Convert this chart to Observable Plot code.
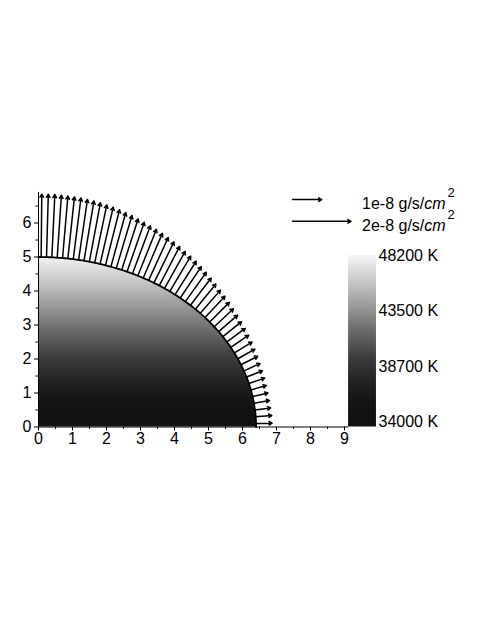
<!DOCTYPE html>
<html>
<head>
<meta charset="utf-8">
<script src="https://cdn.jsdelivr.net/npm/d3@7"></script>
<script src="https://cdn.jsdelivr.net/npm/@observablehq/plot@0.6"></script>
<style>
  html, body { margin: 0; padding: 0; background: #fff; }
  #chart { width: 491px; height: 635px; }
  #chart svg { font-family: "Liberation Sans", Arial, Helvetica, sans-serif; color: #000; }
  #chart svg g[aria-label$="tick label"] text { font-size: 16px !important; }
</style>
</head>
<body>
<div id="chart"></div>
<script>
// ---------------- data ----------------
// star outline (oblate): equatorial and polar semi-axes
const semiAxisX = 6.4;
const semiAxisY = 5.0;

// polar angle (deg) of the base of each flux arrow on the surface
const arrowThetaDeg = [0.9, 2.7, 4.5, 6.3, 8.1, 9.9, 11.7, 13.5, 15.3, 17.1,
  18.9, 20.7, 22.5, 24.3, 26.1, 27.9, 29.7, 31.5, 33.3, 35.1,
  36.9, 38.7, 40.5, 42.3, 44.1, 45.9, 47.7, 49.5, 51.3, 53.1,
  54.9, 56.7, 58.5, 60.3, 62.1, 63.9, 65.7, 67.5, 69.3, 71.1,
  72.9, 74.7, 76.5, 78.3, 80.1, 81.9, 83.7, 85.5, 87.3, 89.1];

// mass flux magnitude, in units of 1e-8 g/s/cm^2
const fluxE8 = [0.55, 0.55, 0.54, 0.54, 0.54, 0.55, 0.57, 0.59, 0.61, 0.64,
  0.67, 0.71, 0.74, 0.78, 0.82, 0.86, 0.90, 0.95, 1.00, 1.05,
  1.11, 1.17, 1.23, 1.29, 1.35, 1.40, 1.45, 1.51, 1.56, 1.61,
  1.66, 1.71, 1.75, 1.79, 1.83, 1.88, 1.92, 1.96, 1.99, 2.02,
  2.05, 2.07, 2.09, 2.11, 2.12, 2.13, 2.14, 2.15, 2.15, 2.15];

// legend arrows
const legendFlux = [1, 2];
const legendLabels = ["1e-8 g/s/", "2e-8 g/s/"];
const legendUnitItalic = "cm";
const legendUnitPower = "2";

// temperature colour bar
const tempTicks = [34000, 38700, 43500, 48200];
const tempUnit = "K";
// grey level of the temperature map vs height
const grayStopY = [0, 0.5, 1.0, 1.5, 2.0, 2.5, 3.0, 3.5, 4.0, 4.5, 5.0];
const grayStopLevel = [17, 19, 26, 40, 60, 88, 118, 150, 182, 212, 242];

// axis ticks
const xTicks = [0, 1, 2, 3, 4, 5, 6, 7, 8, 9];
const xMinor = [0.5, 1.5, 2.5, 3.5, 4.5, 5.5, 6.5, 7.5, 8.5];
const yTicks = [0, 1, 2, 3, 4, 5, 6];
const yMinor = [0.5, 1.5, 2.5, 3.5, 4.5, 5.5, 6.5];

// ---------------- layout constants ----------------
const arrowUnitsPerFlux = 0.86;   // data units of arrow length per 1e-8
const colorbarX = [9.12, 9.94];
const colorbarY = [0, 5.04];
const cbLabelX = 10.0;
const cbLabelY = [0.14, 5.04];    // where lowest / highest temperature labels sit
const legendArrowX = 7.47;
const legendRowY = [6.69, 6.05];
const legendTextX = 9.53;
const yAxisTop = 6.9;

// ---------------- derived geometry ----------------
const rad = Math.PI / 180;
const a = semiAxisX, b = semiAxisY;

const arrows = arrowThetaDeg.map((t, i) => {
  const th = t * rad;
  const r = a * b / Math.hypot(b * Math.cos(th), a * Math.sin(th));
  const x0 = r * Math.cos(th), y0 = r * Math.sin(th);
  let nx = x0 / (a * a), ny = y0 / (b * b);
  const n = Math.hypot(nx, ny); nx /= n; ny /= n;
  const L = fluxE8[i] * arrowUnitsPerFlux;
  return {x1: x0, y1: y0, x2: x0 + L * nx, y2: y0 + L * ny};
});

const outline = d3.range(0, 90.0001, 0.5).map(p => ({
  x: a * Math.cos(p * rad),
  y: b * Math.sin(p * rad)
}));

const legendRows = legendFlux.map((f, i) => ({
  x1: legendArrowX, x2: legendArrowX + f * arrowUnitsPerFlux,
  y: legendRowY[i], label: legendLabels[i]
}));

const tMin = d3.min(tempTicks), tMax = d3.max(tempTicks);
const tempToY = d3.scaleLinear([tMin, tMax], cbLabelY);

// ---------------- plot ----------------
const W = 491, H = 635;
const plot = Plot.plot({
  width: W,
  height: H,
  marginLeft: 38,
  marginRight: 113,
  marginTop: 188.5,
  marginBottom: 208.5,
  x: {domain: [0, 10]},
  y: {domain: [0, 7]},
  style: {fontSize: "16px", color: "#000", background: "#fff", overflow: "visible"},
  marks: [
    // temperature-shaded star
    Plot.areaX(outline, {y: "y", x1: 0, x2: "x", fill: "url(#tgrad)", curve: "linear"}),
    Plot.line(outline, {x: "x", y: "y", stroke: "#000", strokeWidth: 1.8}),
    // colour bar
    Plot.rect([0], {x1: colorbarX[0], x2: colorbarX[1], y1: colorbarY[0], y2: colorbarY[1], fill: "url(#tgrad)"}),
    Plot.text(tempTicks, {
      x: cbLabelX, y: d => tempToY(d), text: d => `${d} ${tempUnit}`,
      textAnchor: "start", lineAnchor: "middle", fontSize: 16, fill: "#000"
    }),
    // axis lines
    Plot.ruleY([0], {x1: 0, x2: colorbarX[0], stroke: "#000", strokeWidth: 1}),
    Plot.ruleX([0], {y1: 0, y2: yAxisTop, stroke: "#000", strokeWidth: 1}),
    // ticks
    Plot.axisX(xTicks, {tickSize: 4, tickPadding: 2, fontSize: 16, stroke: "#000", fill: "#000"}),
    Plot.axisX(xMinor, {tickSize: 2.5, tickFormat: () => "", stroke: "#000"}),
    Plot.axisY(yTicks, {tickSize: 4, tickPadding: 3, fontSize: 16, stroke: "#000", fill: "#000"}),
    Plot.axisY(yMinor, {tickSize: 2.5, tickFormat: () => "", stroke: "#000"}),
    // flux arrows
    Plot.arrow(arrows, {x1: "x1", y1: "y1", x2: "x2", y2: "y2",
      stroke: "#000", strokeWidth: 1.5, headLength: 3.5, headAngle: 60}),
    // legend arrows
    Plot.arrow(legendRows, {x1: "x1", x2: "x2", y1: "y", y2: "y",
      stroke: "#000", strokeWidth: 1.5, headLength: 3.5, headAngle: 60})
  ]
});

// gradient definition for the temperature map
const ys = plot.scale("y");
const xs = plot.scale("x");
const svgSel = d3.select(plot);
const defs = svgSel.insert("defs", ":first-child");
const lg = defs.append("linearGradient")
  .attr("id", "tgrad")
  .attr("gradientUnits", "userSpaceOnUse")
  .attr("x1", 0).attr("x2", 0)
  .attr("y1", ys.apply(0)).attr("y2", ys.apply(grayStopY[grayStopY.length - 1]));
grayStopY.forEach((v, i) => {
  const g = grayStopLevel[i];
  lg.append("stop")
    .attr("offset", v / grayStopY[grayStopY.length - 1])
    .attr("stop-color", d3.rgb(g, g, g).formatHex());
});

// legend labels (with italic unit and superscript)
legendRows.forEach(row => {
  const t = svgSel.append("text")
    .attr("x", xs.apply(legendTextX))
    .attr("y", ys.apply(row.y) + 10)
    .attr("text-anchor", "start")
    .attr("font-size", 16)
    .attr("fill", "#000");
  t.append("tspan").text(row.label);
  t.append("tspan").attr("font-style", "italic").text(legendUnitItalic);
  t.append("tspan").attr("dy", -12).attr("dx", 2).attr("font-size", 13).text(legendUnitPower);
});

document.getElementById("chart").appendChild(plot);
</script>
</body>
</html>
